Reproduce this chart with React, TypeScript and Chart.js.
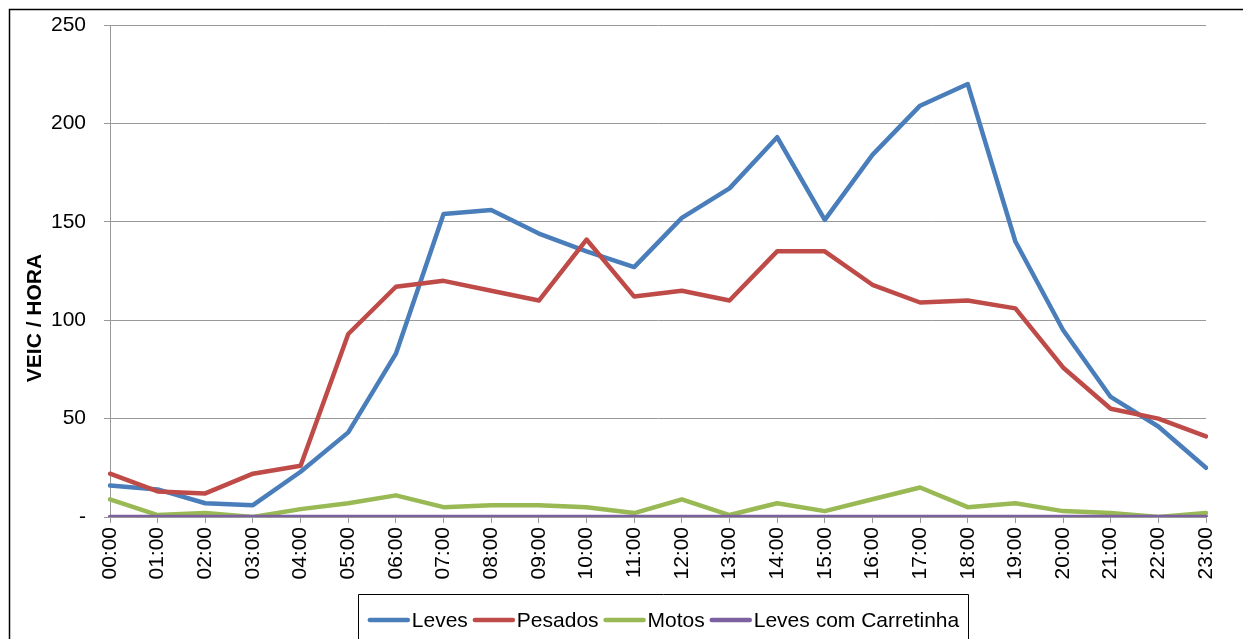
import React, { useEffect, useRef } from "react";
import { Chart, registerables } from "chart.js";

Chart.register(...registerables);

const hours = [
  "00:00", "01:00", "02:00", "03:00", "04:00", "05:00", "06:00", "07:00",
  "08:00", "09:00", "10:00", "11:00", "12:00", "13:00", "14:00", "15:00",
  "16:00", "17:00", "18:00", "19:00", "20:00", "21:00", "22:00", "23:00",
];

const leves = [16, 14, 7, 6, 23, 43, 83, 154, 156, 144, 135, 127, 152, 167, 193, 151, 184, 209, 220, 140, 95, 61, 46, 25];
const pesados = [22, 13, 12, 22, 26, 93, 117, 120, 115, 110, 141, 112, 115, 110, 135, 135, 118, 109, 110, 106, 76, 55, 50, 41];
const motos = [9, 1, 2, 0, 4, 7, 11, 5, 6, 6, 5, 2, 9, 1, 7, 3, 9, 15, 5, 7, 3, 2, 0, 2];
const carretinha = [0, 0, 0, 0, 0, 0, 0, 0, 0, 0, 0, 0, 0, 0, 0, 0, 0, 0, 0, 0, 0, 0, 0, 0];

const yTicks = [0, 50, 100, 150, 200, 250];
const yTitle = "VEIC / HORA";

const FONT = "'Liberation Sans', Arial, sans-serif";

const decorPlugin = {
  id: "decor",
  afterDraw(chart: any) {
    const ctx = chart.ctx;
    ctx.save();
    // outer frame
    ctx.strokeStyle = "#000";
    ctx.lineWidth = 1.5;
    ctx.beginPath();
    ctx.moveTo(9.5, 640);
    ctx.lineTo(9.5, 9.5);
    ctx.lineTo(1243, 9.5);
    ctx.stroke();

    // y axis title
    ctx.fillStyle = "#000";
    ctx.font = "bold 21px " + FONT;
    ctx.textAlign = "center";
    ctx.textBaseline = "middle";
    ctx.translate(35, 318);
    ctx.rotate(-Math.PI / 2);
    ctx.fillText(yTitle, 0, 0);
    ctx.setTransform(1, 0, 0, 1, 0, 0);
    ctx.restore();

    // legend
    ctx.save();
    const boxL = 358.5, boxR = 968.5, boxT = 594.5;
    ctx.strokeStyle = "#000";
    ctx.lineWidth = 1;
    ctx.beginPath();
    ctx.moveTo(boxL, 645);
    ctx.lineTo(boxL, boxT);
    ctx.lineTo(boxR, boxT);
    ctx.lineTo(boxR, 645);
    ctx.stroke();

    ctx.font = "21px " + FONT;
    ctx.textAlign = "left";
    ctx.textBaseline = "middle";
    const lineLen = 42, gapLT = 2, gapItem = 5;
    const ds = chart.data.datasets;
    let total = 0;
    ds.forEach((d: any, i: number) => {
      total += lineLen + gapLT + ctx.measureText(d.label).width;
      if (i < ds.length - 1) total += gapItem;
    });
    let x = (boxL + boxR) / 2 - total / 2;
    const y = 620;
    ds.forEach((d: any) => {
      ctx.strokeStyle = d.borderColor;
      ctx.lineWidth = 4.5;
      ctx.lineCap = "round";
      ctx.beginPath();
      ctx.moveTo(x + 2, y);
      ctx.lineTo(x + lineLen - 2, y);
      ctx.stroke();
      x += lineLen + gapLT;
      ctx.fillStyle = "#000";
      ctx.fillText(d.label, x, y + 1);
      x += ctx.measureText(d.label).width + gapItem;
    });
    ctx.restore();
  },
};

export default function App() {
  const ref = useRef<HTMLCanvasElement>(null);

  useEffect(() => {
    if (!ref.current) return;
    const chart = new Chart(ref.current, {
      type: "line",
      data: {
        labels: hours,
        datasets: [
          { label: "Leves", data: leves, borderColor: "#4A7EBB", backgroundColor: "#4A7EBB", order: 3 },
          { label: "Pesados", data: pesados, borderColor: "#BE4B48", backgroundColor: "#BE4B48", order: 2 },
          { label: "Motos", data: motos, borderColor: "#98B954", backgroundColor: "#98B954", order: 1 },
          { label: "Leves com Carretinha", data: carretinha, borderColor: "#7D60A0", backgroundColor: "#7D60A0", order: 0 },
        ],
      },
      options: {
        responsive: false,
        animation: false,
        events: [],
        layout: { padding: { left: 0, right: 37, top: 25, bottom: 50 } },
        elements: {
          line: { borderWidth: 4.5, tension: 0, borderJoinStyle: "round", borderCapStyle: "round" },
          point: { radius: 0 },
        },
        plugins: {
          legend: { display: false },
          tooltip: { enabled: false },
        },
        scales: {
          x: {
            type: "category",
            offset: false,
            grid: { drawOnChartArea: false, drawTicks: true, tickLength: 6, color: "#999" },
            border: { color: "#999", width: 1 },
            ticks: {
              autoSkip: false,
              minRotation: 90,
              maxRotation: 90,
              padding: 4,
              color: "#000",
              font: { size: 21, family: FONT },
            },
            afterFit: (s: any) => { s.height = 72; },
          },
          y: {
            min: 0,
            max: 250,
            afterBuildTicks: (s: any) => { s.ticks = yTicks.map((v) => ({ value: v })); },
            grid: { color: "#999", lineWidth: 1, tickLength: 6 },
            border: { color: "#999", width: 1 },
            ticks: {
              padding: 18,
              color: "#000",
              font: { size: 21, family: FONT },
              callback: (v: any) => (Number(v) === 0 ? "-" : String(v)),
            },
            afterFit: (s: any) => {
              s.width = 110;
              s.paddingTop = 12;
              s.paddingBottom = 12;
            },
          },
        },
      },
      plugins: [decorPlugin],
    });
    return () => chart.destroy();
  }, []);

  return (
    <div style={{ position: "fixed", left: 0, top: 0, width: 1243, height: 639, background: "#fff" }}>
      <canvas ref={ref} width={1243} height={639} style={{ display: "block" }} />
    </div>
  );
}
